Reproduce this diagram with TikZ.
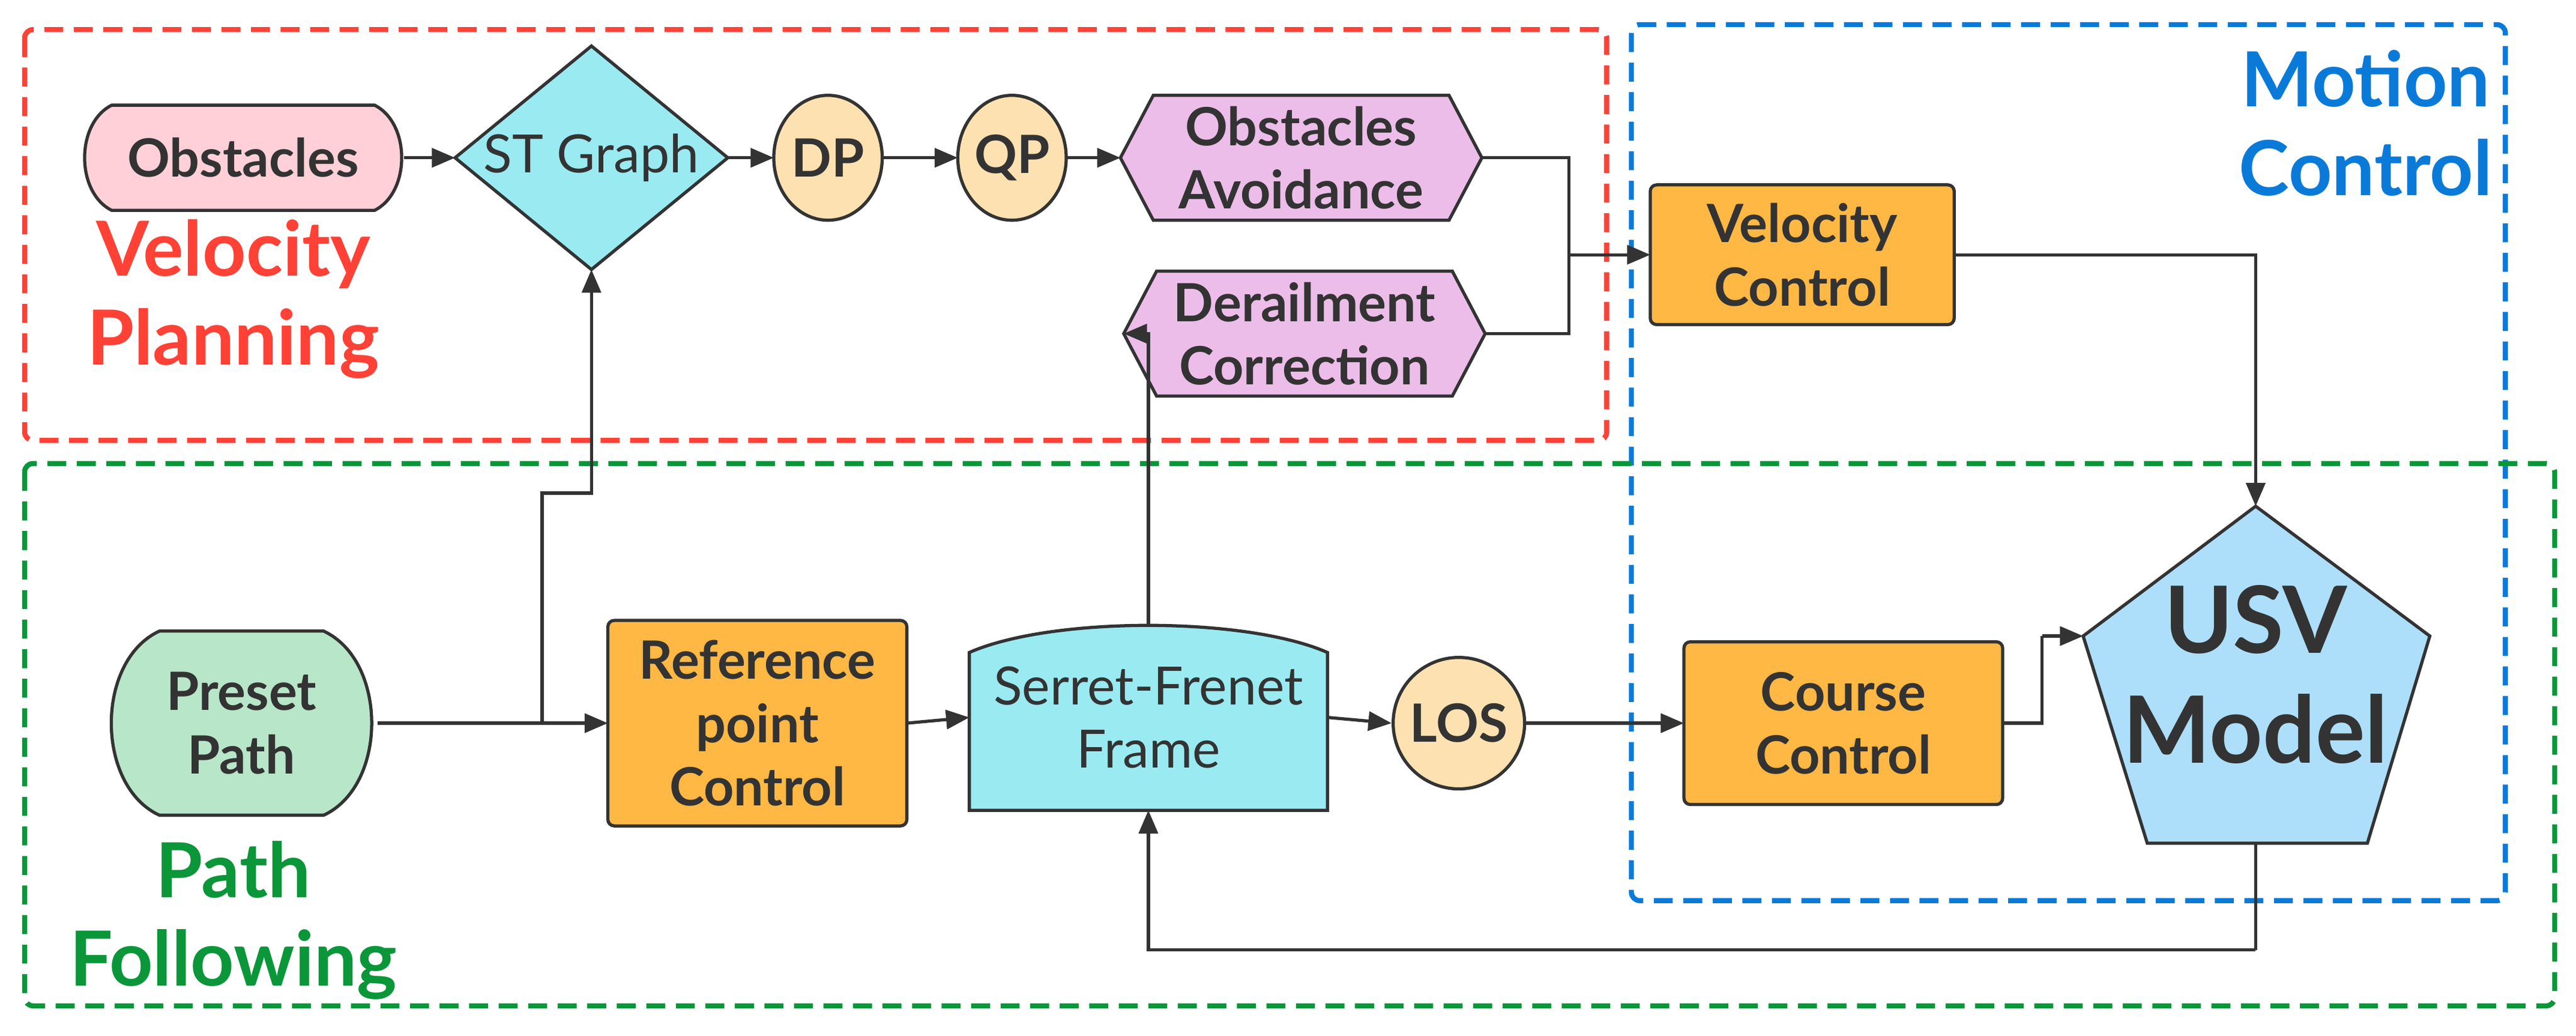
\documentclass[tikz,border=0pt]{standalone}
\usepackage{fontspec}
\setmainfont{Lato}
\usetikzlibrary{arrows.meta,shapes.geometric}
\definecolor{cred}{HTML}{FF4136}
\definecolor{cblue}{HTML}{0A7AD9}
\definecolor{cgreen}{HTML}{0A9639}
\definecolor{cpink}{HTML}{FFD0D8}
\definecolor{ccyan}{HTML}{9AEAF2}
\definecolor{cpeach}{HTML}{FDE1B0}
\definecolor{cviolet}{HTML}{EDBDE9}
\definecolor{corange}{HTML}{FEB843}
\definecolor{cmint}{HTML}{B8E6C8}
\definecolor{csky}{HTML}{ADDFFB}
\definecolor{cline}{HTML}{333333}
\def\U{0.02737cm}
\begin{document}
\begin{tikzpicture}[x=0.02737cm,y=-0.02737cm,
  shp/.style={draw=cline,line width=1.5pt},
  lbl/.style={font=\fontsize{25}{30}\selectfont\bfseries,text=cline,align=center},
  lblr/.style={font=\fontsize{25}{30}\selectfont,text=cline,align=center},
  big/.style={font=\fontsize{36}{42}\selectfont\bfseries,align=center},
  box/.style={dashed,line width=2.4pt,dash pattern=on 9pt off 5pt,rounded corners=4pt},
  arr/.style={draw=cline,line width=1.5pt,-{Triangle[length=11pt,width=9pt]}},
  ln/.style={draw=cline,line width=1.5pt},
  sz/.style 2 args={minimum width=#1*\U,minimum height=#2*\U,inner sep=0pt,outer sep=0pt}]
\useasboundingbox (0,0) rectangle (1568,630);
% group boxes
\draw[box,cred] (15,18) rectangle (978,268);
\draw[box,cblue] (993,15) rectangle (1525,548);
\draw[box,cgreen] (15,282) rectangle (1555,612);
\node[big,text=cred] (vp) at (142,182) {Velocity\\Planning};
\node[big,text=cblue] (mc) at (1440,75) {Motion\\Control};
\node[big,text=cgreen] (pf) at (142,560) {Path\\Following};
% shapes
\draw[shp,fill=cpink] (68,64) -- (228,64) .. controls (250,75) and (250,117) .. (228,128) -- (68,128) .. controls (46,117) and (46,75) .. (68,64) -- cycle;
\node[lbl,sz={196}{64}] (obs) at (148,96) {Obstacles};
\draw[shp,fill=ccyan] (360,28) -- (443,96) -- (360,164) -- (277,96) -- cycle;
\node[lblr,sz={166}{136}] (st) at (360,96) {ST Graph};
\node[lbl,ellipse,shp,fill=cpeach,sz={66}{76}] (dp) at (504,96) {DP};
\node[lbl,ellipse,shp,fill=cpeach,sz={66}{76}] (qp) at (616,96) {QP};
\draw[shp,fill=cviolet] (682,96) -- (702,58) -- (882,58) -- (902,96) -- (882,134) -- (702,134) -- cycle;
\node[lbl,sz={220}{76}] (oa) at (792,96) {Obstacles\\Avoidance};
\draw[shp,fill=cviolet] (684,203) -- (704,165) -- (884,165) -- (904,203) -- (884,241) -- (704,241) -- cycle;
\node[lbl,sz={220}{76}] (dc) at (794,203) {Derailment\\Correction};
\node[lbl,shp,fill=corange,rounded corners=3pt,sz={185}{85}] (vc) at (1097,155) {Velocity\\Control};
\draw[shp,fill=cmint] (97,384) -- (197,384) .. controls (236,402) and (236,478) .. (197,496) -- (97,496) .. controls (58,478) and (58,402) .. (97,384) -- cycle;
\node[lbl,sz={166}{112}] (pp) at (147,440) {Preset\\Path};
\node[lbl,shp,fill=corange,rounded corners=3pt,sz={182}{125}] (rp) at (461,440) {Reference\\point\\Control};
\draw[shp,fill=ccyan] (590,493) -- (590,397) .. controls (640,375) and (758,375) .. (808,397) -- (808,493) -- cycle;
\node[lblr,sz={218}{113}] (sf) at (699,436.5) {Serret-Frenet\\Frame};
\node[lbl,circle,shp,fill=cpeach,minimum size=80*\U,inner sep=0pt] (los) at (888,440) {LOS};
\node[lbl,shp,fill=corange,rounded corners=3pt,sz={194}{99}] (cc) at (1122,440) {Course\\Control};
\draw[shp,fill=csky] (1373,308) -- (1479,387) -- (1441,513) -- (1307,513) -- (1268,387) -- cycle;
\node[font=\fontsize{44}{52}\selectfont\bfseries,text=cline,align=center,sz={207}{205}] (usv) at (1373,410.5) {USV\\Model};
% connectors
\draw[arr] (obs.east) -- (st.west);
\draw[arr] (st.east) -- (dp.west);
\draw[arr] (dp.east) -- (qp.west);
\draw[arr] (qp.east) -- (oa.west);
\coordinate (j1) at (955,155);
\draw[ln] (oa.east) -| (j1);
\draw[ln] (dc.east) -| (j1);
\draw[arr] (j1) -- (vc.west);
\draw[arr] (vc.east) -| (usv.north);
\draw[arr] (pp.east) -- (rp.west);
\coordinate (b1) at (330,440);
\coordinate (b2) at (360,300);
\draw[arr] (b1) |- (b2) -- (st.south);
\draw[arr] (rp.east) -- (sf.west);
\draw[arr] (sf.east) -- (los.west);
\draw[arr] (los.east) -- (cc.west);
\draw[arr] (sf.north) |- (dc.west);
\coordinate (u1) at (1243,387);
\draw[ln] (cc.east) -| (u1);
\coordinate (uw) at (1268,387);
\draw[arr] (u1) -- (uw);
\coordinate (f1) at (1373,578);
\draw[ln] (usv.south) -- (f1);
\draw[arr] (f1) -| (sf.south);
\end{tikzpicture}
\end{document}
